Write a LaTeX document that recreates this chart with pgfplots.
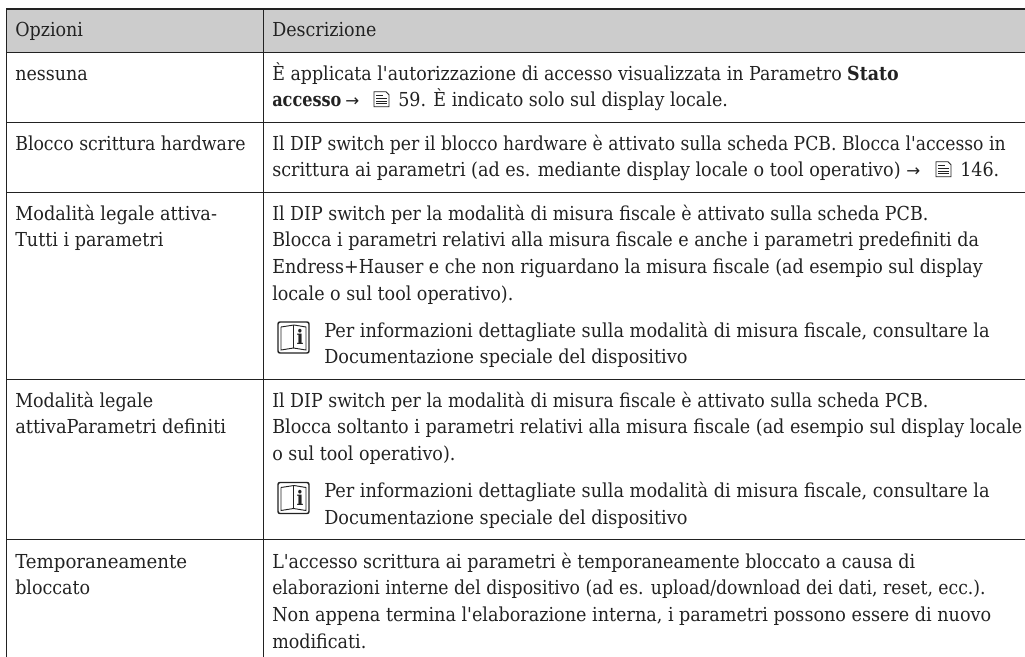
\documentclass[border=0pt]{standalone}
\usepackage{fontspec}
\usepackage{graphicx}
\usepackage{pgfplots}
\pgfplotsset{compat=1.18}
\setmainfont{DejaVu Serif Condensed}
\newfontfamily\symf{DejaVu Sans}
\newfontfamily\qf{DejaVu Serif Condensed}
\definecolor{tx}{HTML}{222222}
\newcommand{\q}{{\qf'}}
\newcommand{\TS}[4]{\node[anchor=base west,inner sep=0pt,text=tx,font=\fontsize{14.45}{16}\selectfont] at (axis cs:#2,#3) {\scalebox{#1}[1]{#4}};}
\newcommand{\T}[3]{\TS{1.01}{#1}{#2}{#3}}
\newcommand{\arr}[2]{\node[anchor=base west,inner sep=0pt,text=tx,font=\symf\fontsize{12.5}{12}\selectfont] at (axis cs:#1,#2) {→};}
\newcommand{\pg}[2]{\draw[tx,line width=.6pt] (axis cs:#1,#2-15) -- (axis cs:#1+12,#2-15) -- (axis cs:#1+15,#2-12) -- (axis cs:#1+15,#2) -- (axis cs:#1,#2) -- cycle;\draw[tx,line width=.6pt] (axis cs:#1+2,#2-11)--(axis cs:#1+9,#2-11) (axis cs:#1+2,#2-8)--(axis cs:#1+13,#2-8) (axis cs:#1+2,#2-5.5)--(axis cs:#1+13,#2-5.5) (axis cs:#1+2,#2-3)--(axis cs:#1+13,#2-3);}
\newcommand{\bk}[2]{\draw[tx,line width=1.1pt,rounded corners=1.5pt] (axis cs:#1,#2) rectangle (axis cs:#1+31,#2+31);\draw[tx,line width=.7pt] (axis cs:#1+3,#2+5)--(axis cs:#1+3,#2+28)--(axis cs:#1+15.5,#2+26)--(axis cs:#1+28,#2+28)--(axis cs:#1+28,#2+5)--(axis cs:#1+16,#2+3)--(axis cs:#1+3,#2+5) (axis cs:#1+15.5,#2+3)--(axis cs:#1+15.5,#2+26);\node[inner sep=0pt,text=tx,font=\bfseries\fontsize{15}{15}\selectfont] at (axis cs:#1+22,#2+15) {i};}
\begin{document}
\begin{tikzpicture}
\begin{axis}[scale only axis,width=768.75pt,height=492.75pt,xmin=0,xmax=1025,ymin=0,ymax=657,y dir=reverse,hide axis,clip=false]
\path[use as bounding box] (axis cs:0,0) rectangle (axis cs:1025,657);
\addplot[draw=none,fill=black!20,forget plot] coordinates {(7,9)(1025,9)(1025,52.3)(7,52.3)} --cycle;
\addplot[tx,line width=.85pt,forget plot] coordinates {(6.8,657)(6.8,9)(1025,9)};
\addplot[tx,line width=.85pt,forget plot] coordinates {(263.3,9)(263.3,657)};
\addplot[tx,line width=.85pt,forget plot] coordinates {(7,52.3)(1025,52.3)};
\addplot[tx,line width=.85pt,forget plot] coordinates {(7,122.3)(1025,122.3)};
\addplot[tx,line width=.85pt,forget plot] coordinates {(7,192.3)(1025,192.3)};
\addplot[tx,line width=.85pt,forget plot] coordinates {(7,379.3)(1025,379.3)};
\addplot[tx,line width=.85pt,forget plot] coordinates {(7,539.7)(1025,539.7)};
\T{15}{36.7}{Opzioni}
\T{272}{36.7}{Descrizione}
\T{15}{80}{nessuna}
\TS{1.005}{272}{80}{È applicata l\q autorizzazione di accesso visualizzata in Parametro \textbf{Stato}}
\TS{.93}{272}{106.7}{\textbf{accesso}}
\arr{345}{106.7}
\pg{374}{106.7}
\T{398}{106.7}{59. È indicato solo sul display locale.}
\TS{1}{15}{150}{Blocco scrittura hardware}
\TS{.993}{272}{150}{Il DIP switch per il blocco hardware è attivato sulla scheda PCB. Blocca l\q accesso in}
\TS{1.015}{272}{176.7}{scrittura ai parametri (ad es. mediante display locale o tool operativo)}
\arr{906}{176.7}
\pg{936}{176.7}
\T{960}{176.7}{146.}
\TS{1.02}{15}{220}{Modalità legale attiva-}
\TS{1.013}{15}{246.7}{Tutti i parametri}
\TS{1.005}{272}{220}{Il DIP switch per la modalità di misura fiscale è attivato sulla scheda PCB.}
\TS{1.013}{272}{246.7}{Blocca i parametri relativi alla misura fiscale e anche i parametri predefiniti da}
\TS{1.009}{272}{273.4}{Endress+Hauser e che non riguardano la misura fiscale (ad esempio sul display}
\T{272}{300}{locale o sul tool operativo).}
\bk{278}{322}
\TS{1.023}{324}{337}{Per informazioni dettagliate sulla modalità di misura fiscale, consultare la}
\TS{1.02}{324}{363.7}{Documentazione speciale del dispositivo}
\T{15}{407}{Modalità legale}
\TS{1.03}{15}{433.7}{attivaParametri definiti}
\TS{1.005}{272}{407}{Il DIP switch per la modalità di misura fiscale è attivato sulla scheda PCB.}
\TS{1.0135}{272}{433.7}{Blocca soltanto i parametri relativi alla misura fiscale (ad esempio sul display locale}
\T{272}{460.4}{o sul tool operativo).}
\bk{278}{482.5}
\TS{1.023}{324}{497.5}{Per informazioni dettagliate sulla modalità di misura fiscale, consultare la}
\TS{1.02}{324}{524.2}{Documentazione speciale del dispositivo}
\TS{1.05}{15}{568}{Temporaneamente}
\T{15}{594.7}{bloccato}
\TS{1.011}{272}{568}{L\q accesso scrittura ai parametri è temporaneamente bloccato a causa di}
\TS{.995}{272}{594.7}{elaborazioni interne del dispositivo (ad es. upload/download dei dati, reset, ecc.).}
\TS{1.015}{272}{621.4}{Non appena termina l\q elaborazione interna, i parametri possono essere di nuovo}
\T{272}{648}{modificati.}
\end{axis}
\end{tikzpicture}
\end{document}
